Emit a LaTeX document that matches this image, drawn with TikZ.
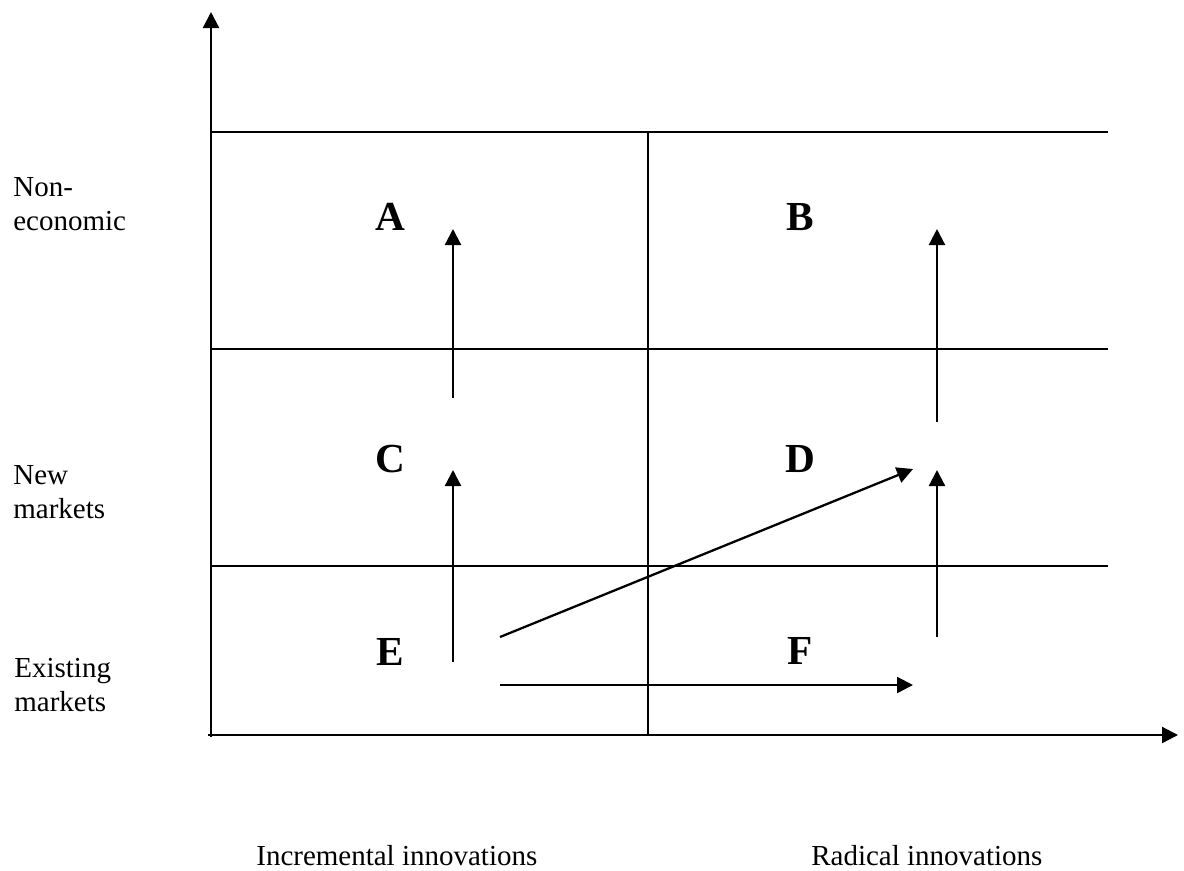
\documentclass[tikz,border=0pt]{standalone}
\usepackage{fontspec}
\setmainfont{Liberation Serif}
\usepackage{tikz}
\usetikzlibrary{arrows.meta,positioning,calc}
\tikzset{
    qAxis/.style={line width=1.3pt, -{Triangle[length=0.32cm, width=0.32cm]}},
    qGrid/.style={line width=0.9pt},
    % Letters in the cells
    qCell/.style={
        font=\fontsize{23.5}{28}\selectfont\bfseries,
        anchor=base,
        inner sep=0pt
    },
    qRow/.style={
        font=\fontsize{16.5}{19.2}\selectfont,
        anchor=north west,
        align=left,
        inner sep=0pt
    },
    qCol/.style={
        font=\fontsize{16.5}{19.2}\selectfont,
        anchor=base west,
        inner sep=0pt
    }
}

\begin{document}
\begin{tikzpicture}[x=0.02cm, y=-0.02cm,
    arr/.style={-{Triangle[length=0.32cm, width=0.32cm]}, line width=1.3pt}
]
\useasboundingbox (0,0) rectangle (1184,870);

% axes
\coordinate (orig) at (211,735);
\coordinate (ytop) at (211,12);
\coordinate (xend) at (1178,735);
\draw[qAxis] ($(orig)+(0,2)$) -- (ytop);
\draw[qAxis] ($(orig)+(-3,0)$) -- (xend);

% grid
\draw[qGrid] (211,132) -- (1108,132);
\draw[qGrid] (211,349) -- (1108,349);
\draw[qGrid] (211,566) -- (1108,566);
\draw[qGrid] (648,132) -- (648,735);

% cells
\node[qCell] (a) at (390,230) {A};
\node[qCell] (b) at (800,230) {B};
\node[qCell] (c) at (390,472) {C};
\node[qCell] (d) at (800,472) {D};
\node[qCell] (e) at (390,665) {E};
\node[qCell] (f) at (800,664) {F};

% row labels
\node[qRow] (noneco) at (13,177) {Non-\\economic};
\node[qRow] (newmkt) at (13,465) {New\\markets};
\node[qRow] (exmkt) at (14,658) {Existing\\markets};

% column labels
\node[qCol] (incr) at (256,865) {Incremental innovations};
\node[qCol] (radi) at (811,865) {Radical innovations};

% moves between cells
\coordinate (ctop) at (453,398);
\coordinate (atip) at (453,229);
\coordinate (ebot) at (453,662);
\coordinate (ctip) at (453,470);
\coordinate (dtop) at (937,422);
\coordinate (btip) at (937,229);
\coordinate (fbot) at (937,637);
\coordinate (dtip) at (937,470);
\coordinate (diagS) at (500,637);
\coordinate (diagE) at (913,469);
\coordinate (horS) at (500,685);
\coordinate (horE) at (913,685);

\draw[arr] (ctop) -- (atip);
\draw[arr] (ebot) -- (ctip);
\draw[arr] (dtop) -- (btip);
\draw[arr] (fbot) -- (dtip);
\draw[arr] (diagS) -- (diagE);
\draw[arr] (horS) -- (horE);
\end{tikzpicture}
\end{document}
